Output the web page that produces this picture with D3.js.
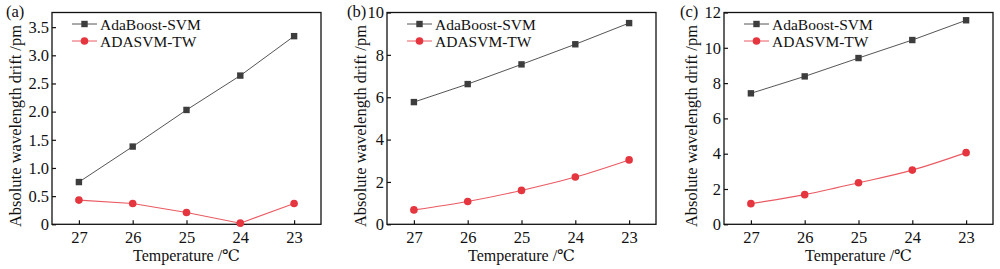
<!DOCTYPE html>
<html><head><meta charset="utf-8">
<script src="https://cdn.jsdelivr.net/npm/d3@7"></script>
<style>
html,body{margin:0;padding:0;background:#fff;}
text{font-family:"Liberation Serif","DejaVu Serif",serif;fill:#111;}
</style></head>
<body><svg id="chart" width="1000" height="269"></svg>
<script>
const temperatures = [27, 26, 25, 24, 23];
const seriesNames = ["AdaBoost-SVM", "ADASVM-TW"];
const panelLabels = ["(a)", "(b)", "(c)"];
const adaboostA = [0.75, 1.38, 2.03, 2.64, 3.34];
const adasvmA   = [0.43, 0.37, 0.21, 0.02, 0.37];
const adaboostB = [5.77, 6.62, 7.55, 8.50, 9.50];
const adasvmB   = [0.68, 1.08, 1.60, 2.23, 3.04];
const adaboostC = [7.42, 8.38, 9.42, 10.44, 11.56];
const adasvmC   = [1.17, 1.68, 2.35, 3.07, 4.06];
const yMaxes = [3.76, 10, 12];
const yTicksA = [0, 0.5, 1.0, 1.5, 2.0, 2.5, 3.0, 3.5];
const yTicksB = [0, 2, 4, 6, 8, 10];
const yTicksC = [0, 2, 4, 6, 8, 10, 12];
const xLabel = "Temperature /℃";
const yLabel = "Absolute wavelength drift /pm";

(function () {
const panels = [
  {left: 52, label: panelLabels[0], labelX: 6, ymax: yMaxes[0], ticks: yTicksA, s1: adaboostA, s2: adasvmA, fmt: d => d === 0 ? "0" : d3.format(".1f")(d), curve: d3.curveLinear, yTitleX: 15},
  {left: 387, label: panelLabels[1], labelX: 347, ymax: yMaxes[1], ticks: yTicksB, s1: adaboostB, s2: adasvmB, fmt: d3.format("d"), curve: d3.curveMonotoneX, yTitleX: 360},
  {left: 724, label: panelLabels[2], labelX: 680, ymax: yMaxes[2], ticks: yTicksC, s1: adaboostC, s2: adasvmC, fmt: d3.format("d"), curve: d3.curveMonotoneX, yTitleX: 691}
];

const W = 269, plotTop = 12.5, plotBottom = 224.3;
const svg = d3.select("#chart");
const dark = "#3d3d3d", red = "#e5353f", redLine = "#ea5a62";

panels.forEach(p => {
  const g = svg.append("g");
  const x = d3.scaleLinear().domain([27.5, 22.5]).range([p.left, p.left + W]);
  const y = d3.scaleLinear().domain([0, p.ymax]).range([plotBottom, plotTop]);

  g.append("rect").attr("x", p.left).attr("y", plotTop).attr("width", W).attr("height", plotBottom - plotTop)
    .attr("fill", "none").attr("stroke", "#111").attr("stroke-width", 1.3);

  const xAxis = d3.axisBottom(x).tickValues(temperatures).tickSizeInner(-4).tickSizeOuter(0).tickPadding(7).tickFormat(d3.format("d"));
  const gx = g.append("g").attr("transform", `translate(0,${plotBottom})`).call(xAxis);
  const yAxis = d3.axisLeft(y).tickValues(p.ticks).tickSizeInner(-4).tickSizeOuter(0).tickPadding(3).tickFormat(p.fmt);
  const gy = g.append("g").attr("transform", `translate(${p.left},0)`).call(yAxis);
  [gx, gy].forEach(a => {
    a.select(".domain").remove();
    a.selectAll("line").attr("stroke", "#111").attr("stroke-width", 1.2);
    a.selectAll("text").attr("font-size", 16.5).attr("font-family", "Liberation Serif").attr("fill", "#111");
  });

  g.append("text").attr("x", p.left + W / 2).attr("y", 261).attr("text-anchor", "middle")
    .attr("font-size", 16).text(xLabel);
  g.append("text").attr("transform", `translate(${p.yTitleX},126) rotate(-90)`)
    .attr("text-anchor", "middle").attr("dominant-baseline", "central").attr("font-size", 16.5).text(yLabel);
  g.append("text").attr("x", p.labelX).attr("y", 17).attr("font-size", 16.5).text(p.label);

  const pts1 = temperatures.map((t, i) => [x(t), y(p.s1[i])]);
  const pts2 = temperatures.map((t, i) => [x(t), y(p.s2[i])]);
  g.append("path").attr("d", d3.line()(pts1)).attr("fill", "none").attr("stroke", "#555").attr("stroke-width", 1);
  g.append("path").attr("d", d3.line().curve(p.curve)(pts2)).attr("fill", "none").attr("stroke", redLine).attr("stroke-width", 1.1);
  g.selectAll(".sq").data(pts1).enter().append("rect")
    .attr("x", d => d[0] - 3.2).attr("y", d => d[1] - 3.2).attr("width", 6.4).attr("height", 6.4).attr("fill", dark);
  g.selectAll(".ci").data(pts2).enter().append("circle")
    .attr("cx", d => d[0]).attr("cy", d => d[1]).attr("r", 3.8).attr("fill", red);

  const lx = p.left + 20, ly1 = 24, ly2 = 41;
  g.append("line").attr("x1", lx).attr("x2", lx + 25).attr("y1", ly1).attr("y2", ly1).attr("stroke", "#555");
  g.append("rect").attr("x", lx + 12.5 - 3.2).attr("y", ly1 - 3.2).attr("width", 6.4).attr("height", 6.4).attr("fill", dark);
  g.append("text").attr("x", lx + 28).attr("y", ly1 + 5.5).attr("font-size", 15.5).text(seriesNames[0]);
  g.append("line").attr("x1", lx).attr("x2", lx + 25).attr("y1", ly2).attr("y2", ly2).attr("stroke", redLine);
  g.append("circle").attr("cx", lx + 12.5).attr("cy", ly2).attr("r", 3.8).attr("fill", red);
  g.append("text").attr("x", lx + 28).attr("y", ly2 + 5.5).attr("font-size", 15.5).text(seriesNames[1]);
});
})();
</script></body></html>
